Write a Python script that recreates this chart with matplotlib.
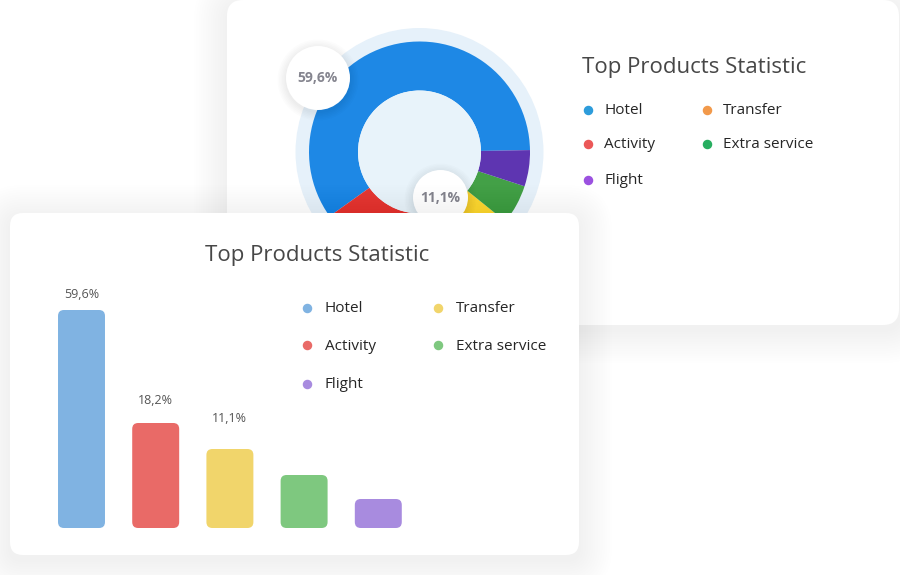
import matplotlib
matplotlib.use("Agg")
import matplotlib.pyplot as plt
from matplotlib.patches import FancyBboxPatch, Circle

plt.rcParams['font.family'] = ['Open Sans', 'DejaVu Sans']

# datos
productos = ["Hotel", "Activity", "Transfer", "Extra service", "Flight"]
porcentajes = [59.6, 18.2, 11.1, 5.8, 5.3]          # dona
etiquetas_barras = ["59,6%", "18,2%", "11,1%", "", ""]
alturas_barras = [218, 105, 79, 53, 29]
etiquetas_dona = ["59,6%", "11,1%"]

colores_dona = ["#1E88E5", "#E53935", "#FDD835", "#43A047", "#5E35B1"]
colores_leyenda_dona = ["#2D9CDB", "#EB5757", "#F2994A", "#27AE60", "#9B51E0"]
colores_barras = ["#80B3E2", "#E96A67", "#F1D56B", "#7EC87F", "#A88BDF"]

W, H = 900, 575
fig = plt.figure(figsize=(9, 5.75), dpi=100)
fig.patch.set_facecolor("white")


def ejes_px(x, y, w, h, z):
    a = fig.add_axes([x / W, 1 - (y + h) / H, w / W, h / H], zorder=z)
    a.set_axis_off()
    a.patch.set_alpha(0)
    return a


def tarjeta(ax, x, y, w, h, r):
    # sombra suave
    for i in range(14):
        e = 2 + i * 2.4
        ax.add_patch(FancyBboxPatch((x - e, y - e + 5), w + 2 * e, h + 2 * e,
                                    boxstyle=f"round,pad=0,rounding_size={r + e}",
                                    fc="black", ec="none", alpha=0.004))
    ax.add_patch(FancyBboxPatch((x, y), w, h, boxstyle=f"round,pad=0,rounding_size={r}",
                                fc="white", ec="none"))


def leyenda(ax, x0, x1, ys, dx, colores, size):
    pos = [(x0, ys[0]), (x0, ys[1]), (x1, ys[0]), (x1, ys[1]), (x0, ys[2])]
    for (px, py), nombre, c in zip(pos, productos, colores):
        ax.scatter([px], [py], s=34, color=c, zorder=5)
        ax.text(px + dx, py + 1, nombre, fontsize=size, color="#262626", va="center",
                ha="left", fontweight=500)


# tarjeta de atras
ax0 = ejes_px(0, 0, W, H, 0)
ax0.set_xlim(0, W)
ax0.set_ylim(H, 0)
tarjeta(ax0, 227, 0, 672, 325, 16)
ax0.text(582, 67, "Top Products Statistic", fontsize=16, color="#474747", va="center",
         ha="left", fontweight=500)
leyenda(ax0, 588, 707, [110, 144, 180], 16, colores_leyenda_dona, 11)

# dona
cx, cy = 419.5, 152
axd = ejes_px(cx - 150, cy - 150, 300, 300, 1)
axd.add_patch(Circle((0, 0), 124, fc="#E6F1FA", ec="none", zorder=0))
axd.pie(porcentajes, colors=colores_dona, radius=110.5, startangle=1, counterclock=True,
        wedgeprops=dict(width=49, linewidth=0))
axd.add_patch(Circle((0, 0), 61.5, fc="#E8F3FA", ec="none", zorder=3))
for (bx, by, br), txt in zip([(-101.5, 74, 32), (21, -45.5, 27.5)], etiquetas_dona):
    for i in range(6):
        axd.add_patch(Circle((bx, by - 2), br + 1 + i * 1.5, fc="black", ec="none",
                             alpha=0.01, zorder=4))
    axd.add_patch(Circle((bx, by), br, fc="white", ec="none", zorder=5))
    axd.text(bx, by, txt, fontsize=10, fontweight="bold", color="#85858F",
             ha="center", va="center", zorder=6)
axd.set_xlim(-150, 150)
axd.set_ylim(-150, 150)
axd.set_aspect("equal")

# tarjeta de adelante
ax2 = ejes_px(0, 0, W, H, 2)
ax2.set_xlim(0, W)
ax2.set_ylim(H, 0)
tarjeta(ax2, 10, 213, 569, 342, 13)
ax2.text(317, 256, "Top Products Statistic", fontsize=16, color="#474747", va="center",
         ha="center", fontweight=500)
leyenda(ax2, 307, 438, [308, 345, 384], 18, colores_barras, 11)

# barras
axb = ejes_px(44.4, 290, 371, 238, 3)
barras = axb.bar(range(len(productos)), alturas_barras, width=0.633, color=colores_barras)
axb.set_xlim(-0.5, 4.5)
axb.set_ylim(0, 238)
offsets = [16, 22, 31, 0, 0]
for b, c, lab, off in zip(barras, colores_barras, etiquetas_barras, offsets):
    x, w, h = b.get_x(), b.get_width(), b.get_height()
    b.remove()
    axb.add_patch(FancyBboxPatch((x, 0), w, h, boxstyle="round,pad=0,rounding_size=0.08",
                                 mutation_aspect=74.2, fc=c, ec="none"))
    if lab:
        axb.text(x + w / 2, h + off, lab, fontsize=9, color="#555555",
                 ha="center", va="center", clip_on=False)

fig.savefig("out.png", dpi=100, facecolor="white")
